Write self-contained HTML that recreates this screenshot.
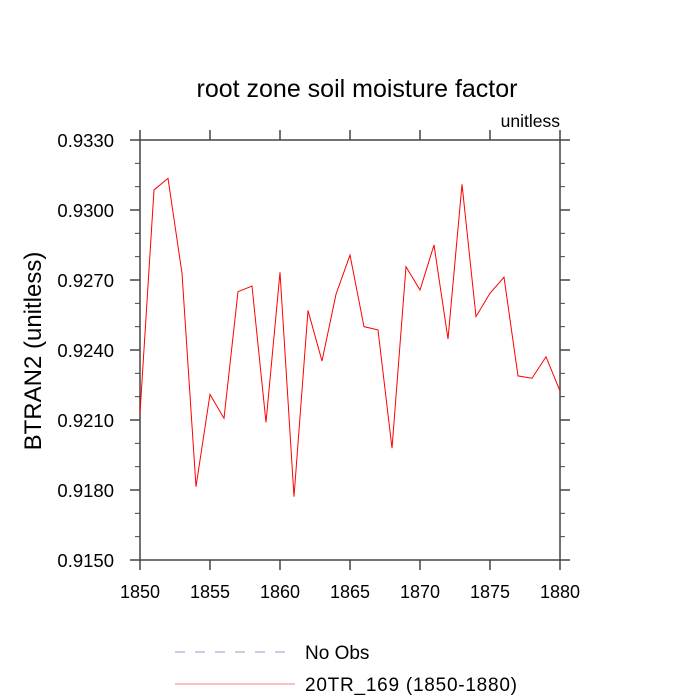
<!DOCTYPE html>
<html><head><meta charset="utf-8"><style>
body{margin:0;background:#fff}
svg{display:block;font-family:"Liberation Sans",sans-serif}
</style></head><body>
<svg id="chart" width="700" height="700">
<text x="357" y="97" font-size="25" text-anchor="middle">root zone soil moisture factor</text>
<text x="560" y="127" font-size="17.5" text-anchor="end">unitless</text>
<text transform="translate(41,351) rotate(-90)" font-size="24" text-anchor="middle">BTRAN2  (unitless)</text>
<g id="axes"></g>
<g id="series"></g>
<line x1="175" y1="652" x2="290" y2="652" stroke="#9999cc" stroke-width="1" stroke-dasharray="10,10"/>
<text x="305" y="659" font-size="19">No Obs</text>
<line x1="175" y1="684" x2="295" y2="684" stroke="#f08080" stroke-width="1"/>
<text x="305" y="691" font-size="19" textLength="212">20TR_169 (1850-1880)</text>
</svg>
<script>
const years=[1850,1851,1852,1853,1854,1855,1856,1857,1858,1859,1860,1861,1862,1863,1864,1865,1866,1867,1868,1869,1870,1871,1872,1873,1874,1875,1876,1877,1878,1879,1880];
const values=[0.92129,0.93086,0.93136,0.92729,0.91814,0.92210,0.92107,0.92650,0.92674,0.92090,0.92733,0.91771,0.92569,0.92353,0.92639,0.92807,0.92500,0.92486,0.91979,0.92757,0.92657,0.92850,0.92447,0.93110,0.92543,0.92643,0.92712,0.92289,0.92279,0.92371,0.92224];
const xTicks=[1850,1855,1860,1865,1870,1875,1880];
const yTicks=[0.915,0.918,0.921,0.924,0.927,0.930,0.933];
const X0=140,X1=560,Y0=140,Y1=560;
const xMin=1850,xMax=1880,yMin=0.915,yMax=0.933;
function sx(v){return X0+(v-xMin)/(xMax-xMin)*(X1-X0);}
function sy(v){return Y1-(v-yMin)/(yMax-yMin)*(Y1-Y0);}
const NS="http://www.w3.org/2000/svg";
const axes=document.getElementById('axes');
function mk(tag,attrs,parent){const e=document.createElementNS(NS,tag);for(const k in attrs)e.setAttribute(k,attrs[k]);parent.appendChild(e);return e;}
const frame=mk('rect',{x:X0,y:Y0,width:X1-X0,height:Y1-Y0,fill:'none',stroke:'#444','stroke-width':1.5},axes);


xTicks.forEach(t=>{
  const x=sx(t);
  const tb=mk('line',{x1:x,y1:Y1,x2:x,y2:Y1+10,stroke:'#444','stroke-width':1.5},axes);
  
  
  const tt=mk('line',{x1:x,y1:Y0,x2:x,y2:Y0-10,stroke:'#444','stroke-width':1.5},axes);
  
  
  const lb=mk('text',{x:x,y:Y1+38,'font-size':18,'text-anchor':'middle'},axes);
  lb.textContent=t;
  
  
});
for(let i=0;i<=18;i++){
  const v=yMin+i*0.001;const y=sy(v);const major=i%3===0;const L=major?10:5;
  const a=mk('line',{x1:X0,y1:y,x2:X0-L,y2:y,stroke:'#444','stroke-width':major?1.5:1},axes);
  
  
  const b=mk('line',{x1:X1,y1:y,x2:X1+L,y2:y,stroke:'#444','stroke-width':major?1.5:1},axes);
  
  
}
yTicks.forEach(t=>{
  const lb=mk('text',{x:X0-26,y:sy(t)+7,'font-size':18.5,'text-anchor':'end'},axes);
  lb.textContent=t.toFixed(4);
  
  
});
const pts=years.map((yr,i)=>sx(yr).toFixed(2)+','+sy(values[i]).toFixed(2)).join(' ');
const pl=mk('polyline',{points:pts,fill:'none',stroke:'#ff0000','stroke-width':1},document.getElementById('series'));


</script>
</body></html>
